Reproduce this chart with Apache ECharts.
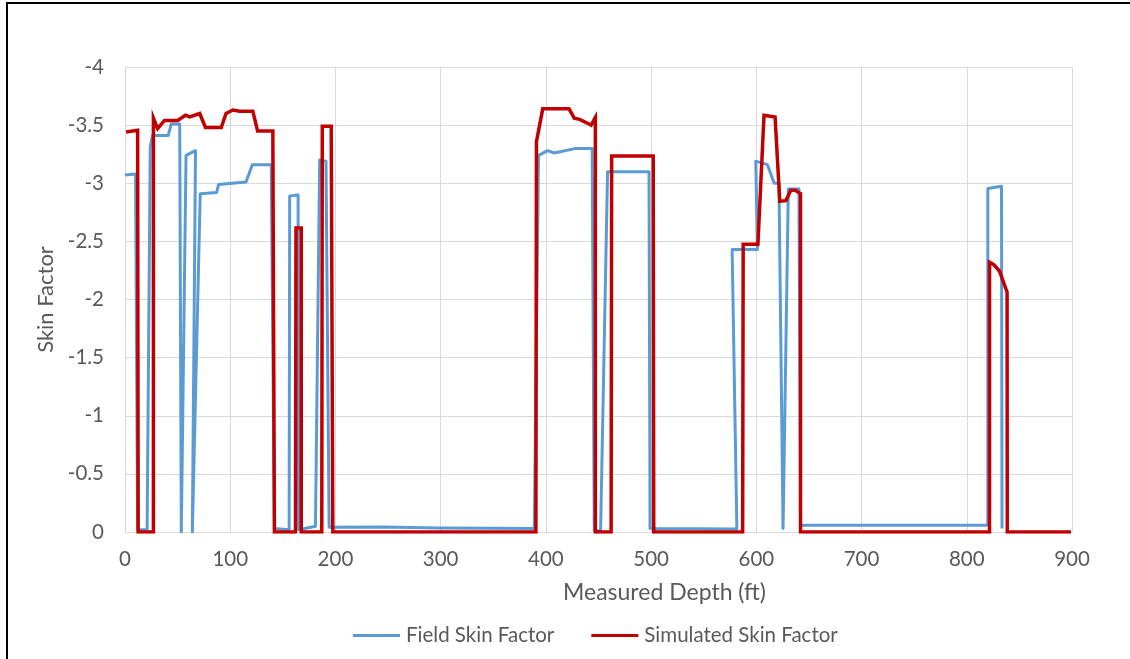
<!DOCTYPE html>
<html>
<head>
<meta charset="utf-8">
<script src="https://cdn.jsdelivr.net/npm/echarts@6/dist/echarts.min.js"></script>
<style>
  html, body { margin: 0; padding: 0; background: #fff; }
  #chart { position: absolute; left: 0; top: 0; width: 1130px; height: 659px; }
  #frame { position: absolute; left: 6px; top: 2px; width: 1124px; height: 657px;
           border-left: 2px solid #000; border-top: 2px solid #000; box-sizing: border-box; pointer-events: none; }
</style>
</head>
<body>
<div id="chart"></div>
<div id="frame"></div>
<script>
// Skin factor along the well, measured depth in ft
const fieldDepth = [0, 10, 12, 21, 24, 26, 41, 44, 52, 53.5, 58, 67, 64, 71.5, 87, 89, 115, 121, 139, 142, 156,
  156.5, 164.5, 165, 181, 185, 191, 194, 245, 300, 389, 393, 401.6, 408, 428.5, 444, 446, 452, 458.6, 498, 499,
  581.5, 577, 601, 599.5, 610.5, 617, 621.5, 625.4, 630.4, 640.5, 642, 820, 820, 833, 833.5];
const fieldSkin = [-3.07, -3.08, -0.02, -0.02, -3.31, -3.41, -3.41, -3.51, -3.51, 0, -3.24, -3.28, 0, -2.91, -2.92, -2.99, -3.01, -3.16, -3.16, -0.03, -0.02,
  -2.89, -2.9, -0.02, -0.05, -3.2, -3.19, -0.04, -0.043, -0.035, -0.03, -3.24, -3.28, -3.26, -3.3, -3.3, -0.01, -0.01, -3.1, -3.1, -0.03,
  -0.025, -2.43, -2.43, -3.19, -3.16, -3.0, -3.0, -0.03, -2.95, -2.95, -0.057, -0.057, -2.955, -2.975, -0.03];

const simDepth = [1, 12, 12.5, 27, 27, 31, 37.5, 50, 57.5, 61.5, 71, 76.5, 91.5, 96, 102.5, 109, 121.5, 126, 140.5, 142,
  162, 162.5, 167.5, 167.5, 187, 187.5, 196, 197.5, 390.5, 391, 397, 422, 427, 432, 441, 443, 447, 447, 462, 462.5,
  502, 502.5, 587, 587.5, 601.5, 607.3, 617.8, 622.3, 628, 632.7, 637, 642, 642, 821.6, 821.6, 825.7, 831, 838.3, 838.5, 899];
const simSkin = [-3.44, -3.455, 0, 0, -3.56, -3.47, -3.54, -3.54, -3.585, -3.57, -3.6, -3.48, -3.48, -3.6, -3.63, -3.62, -3.62, -3.45, -3.45, 0,
  0, -2.615, -2.615, 0, 0, -3.49, -3.49, 0, 0, -3.355, -3.64, -3.64, -3.56, -3.55, -3.51, -3.5, -3.565, 0, 0, -3.235,
  -3.235, 0, 0, -2.475, -2.475, -3.585, -3.57, -2.845, -2.85, -2.94, -2.94, -2.91, 0, 0, -2.32, -2.3, -2.245, -2.065, 0, 0];

const seriesNames = ['Field Skin Factor', 'Simulated Skin Factor'];
const xTitle = 'Measured Depth (ft)';
const yTitle = 'Skin Factor';

const pairs = (xs, ys) => xs.map((x, i) => [x, ys[i]]);

const FONT = 'Lato, "Open Sans", sans-serif';
const TEXT = '#595959';
const GRID = '#d9d9d9';

const chart = echarts.init(document.getElementById('chart'), null, { renderer: 'canvas' });
chart.setOption({
  animation: false,
  backgroundColor: '#fff',
  textStyle: { fontFamily: FONT },
  grid: { left: 125, right: 58, top: 67, bottom: 127, containLabel: false },
  xAxis: {
    type: 'value', min: 0, max: 900, interval: 100,
    name: xTitle, nameLocation: 'middle', nameGap: 49,
    nameTextStyle: { color: TEXT, fontSize: 23, fontFamily: FONT, padding: [0, 0, 0, 132] },
    axisLine: { show: true, lineStyle: { color: GRID, width: 1 } },
    axisTick: { show: false },
    axisLabel: { color: TEXT, fontSize: 20.5, margin: 17, fontFamily: FONT },
    splitLine: { show: true, lineStyle: { color: GRID, width: 1 } }
  },
  yAxis: {
    type: 'value', min: -4, max: 0, interval: 0.5, inverse: true,
    name: yTitle, nameLocation: 'middle', nameGap: 66, nameRotate: 90,
    nameTextStyle: { color: TEXT, fontSize: 22, fontFamily: FONT },
    axisLine: { show: false },
    axisTick: { show: false },
    axisLabel: { color: TEXT, fontSize: 20.5, margin: 21, fontFamily: FONT },
    splitLine: { show: true, lineStyle: { color: GRID, width: 1 } }
  },
  legend: {
    bottom: 8, left: 348,
    icon: 'rect', itemWidth: 47, itemHeight: 3, itemGap: 37,
    textStyle: { color: TEXT, fontSize: 20.5, fontFamily: FONT, padding: [0, 0, 0, 1] },
    data: seriesNames
  },
  series: [
    {
      name: seriesNames[0], type: 'line', data: pairs(fieldDepth, fieldSkin),
      showSymbol: false, symbol: 'none', z: 2,
      lineStyle: { color: '#5B9BD5', width: 3, join: 'round' },
      itemStyle: { color: '#5B9BD5' }
    },
    {
      name: seriesNames[1], type: 'line', data: pairs(simDepth, simSkin),
      showSymbol: false, symbol: 'none', z: 3,
      lineStyle: { color: '#C00000', width: 3.5, join: 'miter' },
      itemStyle: { color: '#C00000' }
    }
  ]
});
</script>
</body>
</html>
